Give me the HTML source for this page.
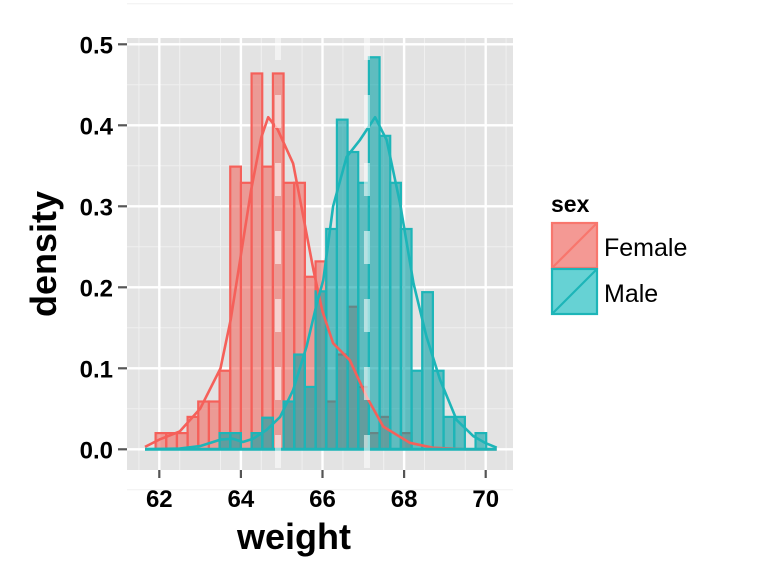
<!DOCTYPE html>
<html><head><meta charset="utf-8"><style>
html,body{margin:0;padding:0;background:#fff;}
svg{display:block;font-family:"Liberation Sans",Arial,sans-serif;}
</style></head><body>
<svg id="chart" width="768" height="576" viewBox="0 0 768 576" xmlns="http://www.w3.org/2000/svg">
<defs><clipPath id="pclip"><rect x="127" y="38" width="386" height="432"/></clipPath></defs>
<rect x="0" y="0" width="768" height="576" fill="#ffffff"/>
<rect x="127" y="38" width="386" height="432" fill="#e3e3e3"/>
<g id="grid"></g>
<g id="bars"></g>
<g id="curves"></g>
<g id="means" clip-path="url(#pclip)"></g>
<g id="axes"></g>
<text x="294" y="549" font-size="36" font-weight="bold" text-anchor="middle">weight</text>
<text x="0" y="0" font-size="36" font-weight="bold" text-anchor="middle" transform="translate(56,254) rotate(-90)">density</text>
<g>
<text x="551" y="212" font-size="23" font-weight="bold">sex</text>
<g>
<rect x="552" y="223" width="45" height="45" fill="rgba(240,110,102,0.7)" stroke="#F8766D" stroke-width="2.2"/>
<line x1="552" y1="268" x2="597" y2="223" stroke="#F8766D" stroke-width="2.2"/>
<text x="604" y="256" font-size="25">Female</text></g>
<g>
<rect x="552" y="269" width="45" height="45" fill="rgba(0,180,184,0.6)" stroke="#1DB5B8" stroke-width="2.2"/>
<line x1="552" y1="314" x2="597" y2="269" stroke="#1DB5B8" stroke-width="2.2"/>
<text x="604" y="302" font-size="25">Male</text></g>
</g>
</svg>
<script>
const binStart = 61.909;
const binWidth = 0.2614;
const femaleDensity = [0.02,0.02,0.02,0.04,0.059,0.059,0.097,0.349,0.329,0.464,0.349,0.464,0.329,0.329,0.213,0.232,0.059,0.117,0.176,0.077,0.02,0.04,0,0.02,0,0,0,0,0,0,0];
const maleDensity = [0,0,0,0,0,0,0.02,0.02,0,0.02,0.039,0,0.059,0.117,0.077,0.195,0.272,0.407,0.367,0.329,0.484,0.387,0.329,0.272,0.097,0.194,0.097,0.04,0.04,0,0.02];
const femaleKdeX = [61.65,62,62.5,63,63.5,63.75,64,64.25,64.5,64.67,64.9,65.28,65.45,65.78,66,66.26,66.67,67.08,67.49,68.14,68.7,69.5,70.27];
const femaleKdeY = [0.003,0.012,0.022,0.05,0.1,0.16,0.24,0.32,0.385,0.41,0.395,0.353,0.308,0.221,0.17,0.131,0.11,0.065,0.028,0.008,0.002,0,0];
const maleKdeX = [61.65,62.5,63,63.5,63.8,64.05,64.3,64.63,64.96,65.28,65.61,65.86,66.02,66.26,66.59,66.92,67.29,67.57,67.9,68.23,68.55,68.88,69.29,69.7,69.98,70.27];
const maleKdeY = [0,0.001,0.004,0.012,0.013,0.009,0.013,0.024,0.04,0.073,0.127,0.18,0.209,0.3,0.361,0.382,0.41,0.382,0.304,0.205,0.139,0.086,0.036,0.016,0.008,0.002];
const means = [64.91, 67.09];
const xTicks = [62,64,66,68,70];
const yTicks = [0,0.1,0.2,0.3,0.4,0.5];

const NS = "http://www.w3.org/2000/svg";
function xs(v){ return 159.3 + (v-62)*40.8; }
function ys(v){ return 449.3 - v*810; }
function mk(tag, attrs, parent){
  const e = document.createElementNS(NS, tag);
  for (const k in attrs) e.setAttribute(k, attrs[k]);
  parent.appendChild(e); return e;
}
const grid = document.getElementById('grid');
for (let v=61.5; v<=70.6; v+=1) {
  const l = mk('line',{x1:xs(v),x2:xs(v),y1:38,y2:470,stroke:'#f0f0f0','stroke-width':1},grid);
  
  
}
for (let v=-0.05; v<=0.56; v+=0.1) {
  const l = mk('line',{x1:127,x2:513,y1:ys(v),y2:ys(v),stroke:'#f0f0f0','stroke-width':1},grid);
  
  
}
xTicks.forEach(v=>{
  const l = mk('line',{x1:xs(v),x2:xs(v),y1:38,y2:470,stroke:'#ffffff','stroke-width':2.4},grid);
  
  
});
yTicks.forEach(v=>{
  const l = mk('line',{x1:127,x2:513,y1:ys(v),y2:ys(v),stroke:'#ffffff','stroke-width':2.4},grid);
  
  
});
const bars = document.getElementById('bars');
function drawBars(arr, fill, stroke, name){
  arr.forEach((d,i)=>{
    if (d<=0) return;
    const x0 = xs(binStart + i*binWidth), x1 = xs(binStart + (i+1)*binWidth);
    const r = mk('rect',{x:x0,y:ys(d),width:x1-x0,height:ys(0)-ys(d),fill:fill,stroke:stroke,'stroke-width':2.2},bars);
    
    
  });
}
drawBars(femaleDensity,'rgba(240,110,102,0.62)','#F5605A','bar-female');
drawBars(maleDensity,'rgba(0,160,165,0.58)','#1DB5B8','bar-male');
const curves = document.getElementById('curves');
function drawCurve(xa, ya, color, name){
  let d = '';
  xa.forEach((x,i)=>{ d += (i?'L':'M') + xs(x).toFixed(1) + ',' + ys(ya[i]).toFixed(1); });
  const p = mk('path',{d:d,fill:'none',stroke:color,'stroke-width':2.6,'stroke-linejoin':'round'},curves);
  
  
}
drawCurve(femaleKdeX, femaleKdeY, '#F5605A', 'kde-female');
drawCurve(maleKdeX, maleKdeY, '#1DB5B8', 'kde-male');
const base = mk('line',{x1:xs(61.65),x2:xs(70.27),y1:ys(0),y2:ys(0),stroke:'#1DB5B8','stroke-width':3},curves);


const meansG = document.getElementById('means');
means.forEach(m=>{
  const l = mk('line',{x1:xs(m),x2:xs(m),y1:27,y2:470,stroke:'rgba(255,255,255,0.55)','stroke-width':6,'stroke-dasharray':'33 35'},meansG);
  
  
});
const axes = document.getElementById('axes');
xTicks.forEach(v=>{
  const t = mk('line',{x1:xs(v),x2:xs(v),y1:470,y2:478,stroke:'#555','stroke-width':2.2},axes);
  
  
  const tx = mk('text',{x:xs(v),y:507,'font-size':24,'font-weight':'bold','text-anchor':'middle'},axes);
  tx.textContent = String(v);
  
  
});
yTicks.forEach(v=>{
  const t = mk('line',{x1:118,x2:127,y1:ys(v),y2:ys(v),stroke:'#555','stroke-width':2.2},axes);
  
  
  const tx = mk('text',{x:113,y:ys(v)+9,'font-size':24,'font-weight':'bold','text-anchor':'end'},axes);
  tx.textContent = v.toFixed(1);
  
  
});
</script>
</body></html>
